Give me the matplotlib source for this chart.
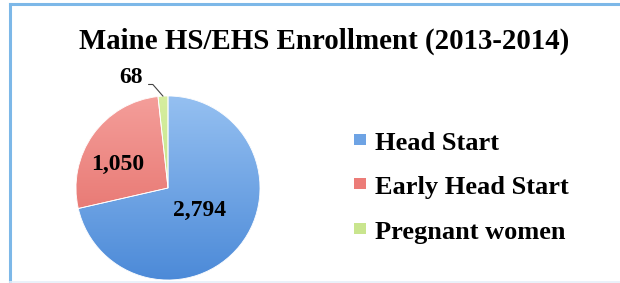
import matplotlib
matplotlib.use("Agg")
import matplotlib.pyplot as plt
from matplotlib.patches import Rectangle, PathPatch
from matplotlib.colors import LinearSegmentedColormap
import numpy as np

categories = ["Head Start", "Early Head Start", "Pregnant women"]
values = [2794, 1050, 68]
labels = ["2,794", "1,050", "68"]
colors = ["#6ea3e4", "#ec7c78", "#c9e58e"]
grad_top = ["#95c0f1", "#f49e9a", "#d6ee9f"]
grad_bot = ["#4c8ad8", "#e2655f", "#b6da78"]
title = "Maine HS/EHS Enrollment (2013-2014)"

W, H = 620, 283
fig = plt.figure(figsize=(W / 100, H / 100), dpi=100)
fig.patch.set_facecolor("white")

def fx(x):
    return x / W

def fy(y):
    return 1 - y / H

# border
bc = "#7db8e8"
fig.add_artist(plt.Line2D([fx(10), fx(10)], [0, fy(4)], transform=fig.transFigure, color=bc, lw=2.2))
fig.add_artist(plt.Line2D([fx(10), 1], [fy(4), fy(4)], transform=fig.transFigure, color=bc, lw=2.2))
fig.add_artist(plt.Line2D([fx(10), 1], [fy(282), fy(282)], transform=fig.transFigure, color="#e6eff8", lw=1.2))

serif = ["Liberation Serif", "DejaVu Serif"]
fig.text(fx(324.5), fy(49), title, ha="center", va="baseline", fontsize=20.8,
         fontweight="bold", family=serif)

cx, cy, r = 168, 188, 92
ax = fig.add_axes([fx(cx - r), fy(cy + r), 2 * r / W, 2 * r / H])
wedges, _ = ax.pie(values, colors=colors, startangle=90, counterclock=False, radius=1,
                   wedgeprops=dict(linewidth=0.6, edgecolor="white"))
ax.set_xlim(-1, 1)
ax.set_ylim(-1, 1)
ax.set_aspect("equal")
ax.axis("off")

# vertical gradient fill inside each wedge
grad = np.linspace(0, 1, 256).reshape(-1, 1)
for w, t, b in zip(wedges, grad_top, grad_bot):
    cmap = LinearSegmentedColormap.from_list("g", [t, b])
    im = ax.imshow(grad, extent=(-1, 1, -1, 1), cmap=cmap, origin="upper",
                   aspect="auto", zorder=w.get_zorder() + 0.1)
    im.set_clip_path(w)
for w in wedges:
    ax.add_patch(PathPatch(w.get_path(), transform=w.get_transform(),
                           facecolor="none", edgecolor="white", lw=0.6, zorder=5))

tot = sum(values)
mids = []
start = 90
for v in values:
    sweep = 360 * v / tot
    mids.append(start - sweep / 2)
    start -= sweep

for i, rr, off in [(0, 0.42, 3), (1, 0.6, 10)]:
    a = np.deg2rad(mids[i] + off)
    ax.text(rr * np.cos(a), rr * np.sin(a), labels[i], ha="center", va="center",
            fontsize=17, fontweight="bold", family=serif, color="black", zorder=10)

a = np.deg2rad(mids[2])
ax.annotate(labels[2], xy=(np.cos(a), np.sin(a)), xytext=(-0.40, 1.205),
            ha="center", va="center", fontsize=17, fontweight="bold", family=serif,
            arrowprops=dict(arrowstyle="-", color="#444444", lw=0.8, relpos=(1.0, 0.15),
                            connectionstyle="angle,angleA=0,angleB=-49,rad=0",
                            shrinkA=2, shrinkB=0),
            annotation_clip=False, zorder=10)

# legend
baselines = [150, 194, 239]
for c, name, yb in zip(colors, categories, baselines):
    fig.add_artist(Rectangle((fx(354), fy(yb - 5)), 12 / W, 11 / H,
                             transform=fig.transFigure, facecolor=c, edgecolor="none"))
    fig.text(fx(375), fy(yb), name, ha="left", va="baseline", fontsize=19,
             fontweight="bold", family=serif)

fig.savefig("out.png", dpi=100, facecolor="white")
